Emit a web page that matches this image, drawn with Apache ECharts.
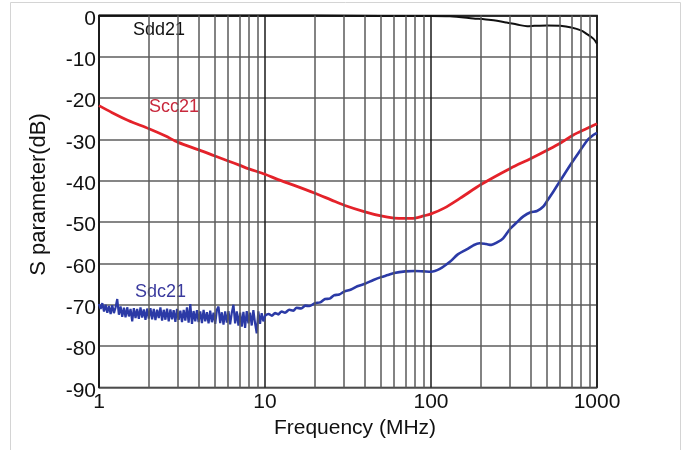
<!DOCTYPE html>
<html><head><meta charset="utf-8">
<script src="https://cdn.jsdelivr.net/npm/echarts@6/dist/echarts.min.js"></script>
<style>html,body{margin:0;padding:0;background:#fff}#c{width:688px;height:450px}</style>
</head><body><div id="c"></div>
<script>
// ---- data ----
const xTicks = [1, 10, 100, 1000];
const yTicks = [0, -10, -20, -30, -40, -50, -60, -70, -80, -90];
const minorFreqs = [2,3,4,5,6,7,8,9,20,30,40,50,60,70,80,90,200,300,400,500,600,700,800,900];

const seriesNames = ['Sdd21', 'Scc21', 'Sdc21'];

const sddFreq = [1, 5, 10, 20, 50, 100, 130, 180, 230, 285, 330, 380, 420, 500, 600, 700, 800, 870, 950, 1000];
const sddDb   = [0, 0, 0, 0, -0.1, -0.1, -0.2, -0.7, -1.1, -1.7, -2.2, -2.6, -2.5, -2.4, -2.5, -2.9, -3.6, -4.5, -5.6, -6.8];

const sccFreq = [1, 1.2, 1.5, 2, 2.5, 3, 4, 5, 6, 7, 8, 10, 12, 15, 20, 25, 30, 40, 50, 60, 70, 80, 90, 100, 120, 150, 200, 300, 400, 500, 600, 720, 850, 1000];
const sccDb   = [-21.8, -23.5, -25.4, -27.4, -29.1, -30.7, -32.5, -34.0, -35.2, -36.2, -37.1, -38.4, -39.7, -41.1, -43.0, -44.6, -45.9, -47.5, -48.5, -49.0, -49.1, -49.0, -48.5, -48.0, -46.6, -44.2, -40.9, -37.0, -34.6, -32.6, -30.9, -28.9, -27.5, -26.2];

// Sdc21 noisy low-frequency part (1 - 10 MHz)
const sdcNoiseFreq = [1.000,1.023,1.047,1.072,1.096,1.122,1.148,1.175,1.202,1.230,1.259,1.288,1.318,1.349,1.380,1.413,1.445,1.479,1.514,1.549,1.585,1.622,1.660,1.698,1.738,1.778,1.820,1.862,1.905,1.950,1.995,2.042,2.089,2.138,2.188,2.239,2.291,2.344,2.399,2.455,2.512,2.570,2.630,2.692,2.754,2.818,2.884,2.951,3.020,3.090,3.162,3.236,3.311,3.388,3.467,3.548,3.631,3.715,3.802,3.890,3.981,4.074,4.169,4.266,4.365,4.467,4.571,4.677,4.786,4.898,5.012,5.129,5.248,5.370,5.495,5.623,5.754,5.888,6.026,6.166,6.310,6.457,6.607,6.761,6.918,7.079,7.244,7.413,7.586,7.762,7.943,8.128,8.318,8.511,8.710,8.913,9.120,9.333,9.550,9.772,10.00];
const sdcNoiseDb = [-69.8,-71.0,-69.6,-71.6,-70.0,-71.9,-70.3,-72.2,-70.1,-72.0,-70.6,-68.6,-72.4,-70.4,-72.9,-70.7,-73.0,-70.6,-72.8,-71.0,-74.0,-70.8,-73.2,-71.0,-73.4,-70.6,-73.1,-71.1,-73.6,-70.9,-73.3,-70.8,-73.5,-71.0,-73.7,-71.2,-73.2,-70.6,-73.8,-71.2,-73.6,-70.9,-74.0,-71.1,-73.5,-71.3,-74.1,-71.0,-73.6,-71.4,-74.2,-71.2,-73.8,-70.6,-74.3,-69.8,-74.6,-71.5,-74.0,-71.3,-74.2,-71.6,-74.4,-71.2,-74.0,-71.8,-74.5,-71.4,-74.2,-71.9,-74.6,-71.2,-70.4,-74.4,-71.8,-74.8,-71.6,-74.3,-71.5,-74.7,-71.9,-70.0,-74.5,-71.6,-75.0,-71.9,-75.3,-71.7,-75.6,-71.5,-74.5,-71.9,-75.0,-71.3,-74.4,-76.9,-71.6,-74.6,-72.0,-74.0,-72.6];

// Sdc21 smoother part (10 - 1000 MHz)
const sdcFreq = [10, 10.5, 11, 11.5, 12, 12.6, 13.2, 14, 14.8, 15.5, 16.5, 17.5, 18.5, 20, 21.5, 23, 24.5, 26, 28, 30, 33, 36, 40, 45, 50, 55, 60, 70, 80, 90, 100, 113, 130, 145, 164, 180, 196, 215, 231, 250, 272, 300, 326, 360, 398, 435, 475, 500, 550, 600, 700, 800, 870, 900, 950, 1000];
const sdcDb   = [-72.6, -72.2, -72.6, -72.0, -72.3, -71.6, -71.9, -71.2, -71.4, -70.7, -70.9, -70.2, -70.3, -69.6, -69.4, -68.6, -68.5, -67.7, -67.5, -66.8, -66.3, -65.5, -64.9, -64.0, -63.3, -62.8, -62.3, -61.9, -61.8, -61.9, -62.0, -61.3, -59.6, -57.8, -56.6, -55.6, -55.1, -55.3, -55.5, -54.9, -53.9, -51.6, -50.2, -48.6, -47.6, -47.3, -46.2, -44.9, -42.4, -40.0, -35.8, -32.4, -30.3, -29.7, -28.9, -28.4];

// ---- build ----
const zip = (a, b) => a.map((v, i) => [v, b[i]]);
const chart = echarts.init(document.getElementById('c'), null, {renderer: 'canvas'});
const FONT = '"Liberation Sans", Arial, sans-serif';
const blue = '#2b3aa6', red = '#e4222a', black = '#111111';

chart.setOption({
  animation: false,
  backgroundColor: '#ffffff',
  grid: {left: 99, top: 15.5, right: 91, bottom: 62.5, show: true, borderColor: '#1a1a1a', borderWidth: 1.5, backgroundColor: 'transparent', z: 0},
  xAxis: {
    type: 'log', logBase: 10, min: xTicks[0], max: xTicks[xTicks.length - 1],
    name: 'Frequency (MHz)', nameLocation: 'middle', nameGap: 18,
    nameTextStyle: {fontFamily: FONT, fontSize: 21, color: '#111', padding: [0, 0, 0, 14]},
    axisLine: {show: true, lineStyle: {color: '#1a1a1a', width: 1.5}},
    axisTick: {show: false},
    axisLabel: {fontFamily: FONT, fontSize: 21, color: '#111', margin: 4,
      formatter: v => String(xTicks.find(t => Math.abs(t - v) / t < 1e-6) ?? v)},
    splitLine: {show: true, lineStyle: {color: '#1a1a1a', width: 1.5}}
  },
  yAxis: {
    type: 'value', min: yTicks[yTicks.length - 1], max: yTicks[0], interval: 10,
    name: 'S parameter(dB)', nameLocation: 'middle', nameGap: 49, nameRotate: 90,
    nameTextStyle: {fontFamily: FONT, fontSize: 22, color: '#111', padding: [0, 0, 0, 14]},
    axisLine: {show: true, lineStyle: {color: '#1a1a1a', width: 1.5}},
    axisTick: {show: false},
    axisLabel: {color: '#111', margin: 3, formatter: '{a|{value}}',
      rich: {a: {fontFamily: FONT, fontSize: 21, color: '#111', padding: [7, 0, 0, 0]}}},
    splitLine: {show: true, lineStyle: {color: '#5e5e5e', width: 1.5}}
  },
  series: [
    {
      type: 'line', data: [], z: 1, silent: true,
      markLine: {
        silent: true, symbol: 'none', animation: false,
        label: {show: false},
        lineStyle: {color: '#5a5a5a', width: 1.5, type: 'solid'},
        data: minorFreqs.map(f => ({xAxis: f}))
      }
    },
    {name: seriesNames[0], type: 'line', data: zip(sddFreq, sddDb), showSymbol: false, smooth: 0.3, clip: false, z: 3,
      lineStyle: {color: black, width: 2}},
    {name: seriesNames[1], type: 'line', data: zip(sccFreq, sccDb), showSymbol: false, smooth: 0.3, z: 3,
      lineStyle: {color: red, width: 2.8}},
    {name: seriesNames[2], type: 'line', data: zip(sdcNoiseFreq, sdcNoiseDb), showSymbol: false, smooth: false, z: 3,
      lineStyle: {color: blue, width: 2.2}},
    {name: seriesNames[2] + ' hf', type: 'line', data: zip(sdcFreq, sdcDb), showSymbol: false, smooth: 0.3, z: 3,
      lineStyle: {color: blue, width: 2.6}}
  ],
  graphic: [
    {type: 'rect', silent: true, shape: {x: 10.5, y: 2.5, width: 670, height: 470},
      style: {fill: 'none', stroke: '#d4d4d4', lineWidth: 1}},
    {type: 'text', left: 133, top: 21, silent: true,
      style: {text: seriesNames[0], font: '18px ' + FONT, fill: '#111'}},
    {type: 'text', left: 149, top: 98, silent: true,
      style: {text: seriesNames[1], font: '18px ' + FONT, fill: '#c8283c'}},
    {type: 'text', left: 135, top: 283, silent: true,
      style: {text: seriesNames[2], font: '18px ' + FONT, fill: '#3a3a9e'}}
  ]
});
</script>
</body></html>
